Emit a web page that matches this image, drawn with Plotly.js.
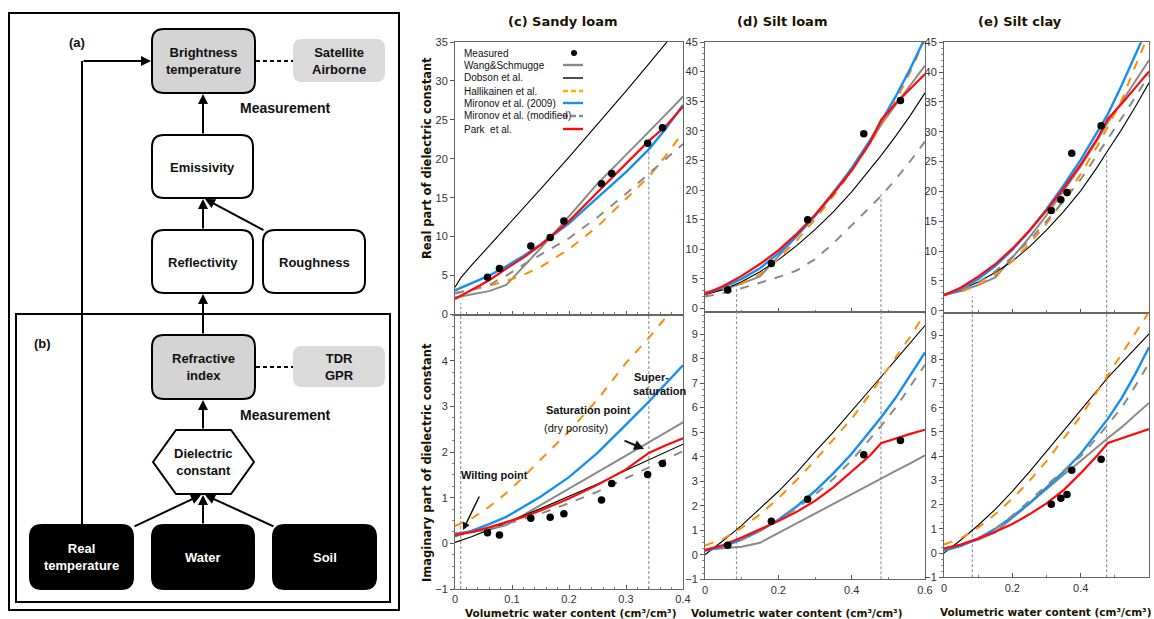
<!DOCTYPE html>
<html>
<head>
<meta charset="utf-8">
<script src="https://cdn.plot.ly/plotly-3.0.1.min.js"></script>
<style>html,body{margin:0;padding:0;background:#fff;}#chart{width:1154px;height:619px;}</style>
</head>
<body>
<div id="chart"></div>
<script>
// ---------------- DATA ----------------
const seriesNames = ['Measured','Wang&Schmugge','Dobson et al.','Hallikainen et al.','Mironov et al. (2009)','Mironov et al. (modified)','Park  et al.'];
const panelTitles = ['(c) Sandy loam','(d) Silt loam','(e) Silt clay'];

const sandyX = [0,0.01,0.03,0.06,0.09,0.12,0.15,0.2,0.25,0.3,0.34,0.37,0.4];
const sandyRealWang =        [2.2,2.3,2.6,3.0,3.8,6.1,8.5,12.6,16.8,20.5,23.4,25.7,28.0];
const sandyRealDobson =      [3.5,4.7,6.4,8.8,11.2,13.6,16.1,20.2,24.4,28.7,32.2,34.8,37.5];
const sandyRealHallikainen = [2.8,2.9,3.2,3.7,4.3,5.1,6.1,8.4,11.3,14.8,17.7,20.4,23.4];
const sandyRealMironov09 =   [3.1,3.4,4.0,5.0,6.2,7.5,9.0,11.7,15.0,18.3,21.2,23.9,26.9];
const sandyRealMironovMod =  [2.7,2.85,3.2,3.8,5.0,6.4,7.7,9.8,12.5,15.5,18.1,20.0,21.9];
const sandyRealPark =        [2.0,2.4,3.1,4.4,5.9,7.3,8.9,12.0,15.7,19.3,22.3,24.2,26.7];
const sandyImagWang =        [0.22,0.23,0.26,0.3,0.4,0.62,0.84,1.2,1.56,1.92,2.21,2.43,2.65];
const sandyImagDobson =      [0.02,0.06,0.15,0.3,0.45,0.6,0.76,1.03,1.3,1.6,1.83,2.0,2.17];
const sandyImagHallikainen = [0.38,0.43,0.55,0.8,1.1,1.45,1.83,2.45,3.15,3.95,4.5,4.95,5.5];
const sandyImagMironov09 =   [0.15,0.2,0.28,0.42,0.58,0.8,1.02,1.45,1.98,2.6,3.1,3.5,3.9];
const sandyImagMironovMod =  [0.17,0.19,0.24,0.32,0.42,0.53,0.65,0.88,1.13,1.42,1.66,1.84,2.02];
const sandyImagPark =        [0.18,0.2,0.25,0.35,0.46,0.58,0.72,0.98,1.28,1.62,1.98,2.15,2.3];
const sandyMeasX =    [0.057,0.078,0.133,0.167,0.191,0.257,0.275,0.338,0.364];
const sandyMeasReal = [4.8,5.9,8.8,9.9,12.0,16.8,18.1,22.0,24.0];
const sandyMeasImag = [0.23,0.18,0.55,0.57,0.65,0.95,1.31,1.51,1.75];

const siltX = [0,0.05,0.1,0.15,0.2,0.25,0.3,0.35,0.4,0.45,0.48,0.52,0.56,0.6];
const siltLoamRealWang =        [2.5,3.2,4.2,5.4,8.8,12.2,15.8,19.6,23.6,28.0,31.0,34.4,37.7,41.0];
const siltLoamRealDobson =      [2.3,3.2,4.5,6.2,8.2,10.6,13.3,16.3,19.7,23.4,25.8,29.1,32.6,36.4];
const siltLoamRealHallikainen = [2.8,3.1,4.2,5.8,8.4,11.5,15.0,19.0,23.3,27.9,30.9,35.0,40.0,45.5];
const siltLoamRealMironov09 =   [2.5,3.6,5.0,6.8,9.3,12.2,15.6,19.4,23.7,28.4,31.5,35.8,40.5,45.7];
const siltLoamRealMironovMod =  [2.0,2.6,3.4,4.3,5.3,6.4,8.3,11.0,14.0,17.1,19.0,21.8,24.9,28.2];
const siltLoamRealPark =        [2.4,3.8,5.5,7.5,9.8,12.6,15.8,19.4,23.3,28.0,31.8,34.6,37.1,39.6];
const siltLoamImagWang =        [0.2,0.25,0.33,0.49,0.89,1.28,1.68,2.07,2.47,2.86,3.1,3.42,3.73,4.05];
const siltLoamImagDobson =      [0.0,0.58,1.2,1.88,2.58,3.35,4.2,5.0,5.85,6.7,7.25,7.95,8.65,9.35];
const siltLoamImagHallikainen = [0.38,0.65,1.1,1.65,2.3,3.05,3.85,4.7,5.55,6.55,7.2,8.05,8.9,9.85];
const siltLoamImagMironov09 =   [0.16,0.34,0.62,0.98,1.43,1.97,2.6,3.32,4.12,5.02,5.6,6.4,7.3,8.25];
const siltLoamImagMironovMod =  [0.2,0.38,0.62,0.98,1.4,1.9,2.45,3.1,3.85,4.7,5.25,6.0,6.85,7.75];
const siltLoamImagPark =        [0.19,0.4,0.7,1.03,1.38,1.75,2.2,2.75,3.4,4.05,4.55,4.75,4.93,5.1];
const siltLoamMeasX =    [0.062,0.181,0.28,0.433,0.533];
const siltLoamMeasReal = [3.1,7.6,15.0,29.5,35.1];
const siltLoamMeasImag = [0.39,1.37,2.26,4.08,4.66];

const siltClayRealWang =        [2.6,3.3,4.3,5.6,8.9,12.3,16.0,20.0,24.2,28.7,31.6,35.0,38.5,42.0];
const siltClayRealDobson =      [2.6,3.5,4.8,6.4,8.3,10.7,13.5,16.6,20.1,24.2,26.9,30.4,34.2,38.2];
const siltClayRealHallikainen = [2.8,3.2,4.3,6.0,8.3,11.2,14.6,18.5,22.9,27.7,30.9,35.3,41.0,46.5];
const siltClayRealMironov09 =   [2.6,3.6,5.3,7.5,10.2,13.4,17.0,21.0,25.3,30.0,33.0,37.8,42.8,48.0];
const siltClayRealMironovMod =  [2.7,3.5,4.7,6.6,9.0,11.8,15.0,18.4,22.0,26.2,28.9,32.3,35.8,39.5];
const siltClayRealPark =        [2.6,3.9,5.7,7.8,10.4,13.4,16.8,20.5,24.5,29.0,32.2,34.7,37.4,40.1];
const siltClayImagWang =        [0.2,0.35,0.55,0.85,1.45,2.05,2.63,3.23,3.8,4.4,4.75,5.2,5.7,6.2];
const siltClayImagDobson =      [0.0,0.55,1.15,1.8,2.55,3.35,4.2,5.05,5.9,6.75,7.25,7.85,8.45,9.05];
const siltClayImagHallikainen = [0.35,0.62,1.05,1.6,2.25,2.98,3.8,4.7,5.65,6.7,7.35,8.2,9.05,9.95];
const siltClayImagMironov09 =   [0.1,0.3,0.6,1.0,1.5,2.05,2.7,3.35,4.1,5.0,5.55,6.4,7.4,8.5];
const siltClayImagMironovMod =  [0.15,0.35,0.62,1.0,1.55,2.15,2.8,3.4,4.0,4.8,5.3,6.0,6.9,7.85];
const siltClayImagPark =        [0.18,0.35,0.6,0.88,1.2,1.6,2.05,2.6,3.3,4.05,4.55,4.75,4.95,5.12];
const siltClayMeasX =    [0.314,0.342,0.36,0.374,0.46];
const siltClayMeasReal = [16.8,18.6,19.8,26.4,31.0];
const siltClayMeasImag = [2.02,2.26,2.42,3.42,3.87];

// wilting point, saturation point (x) and height of the drop line in the real-part plots
const wiltingPoint =    [0.01, 0.086, 0.083];
const saturationPoint = [0.34, 0.48, 0.476];
const wiltingLineTop =    [1.5, 4.0, 2.4];
const saturationLineTop = [22.0, 19.5, 26.0];

// ---------------- STYLE / LAYOUT ----------------
const W = 1154, H = 619;
const PX = p => p / W;
const PY = p => 1 - p / H;

const styles = {
  wang:   {color:'#8a8a8a', width:2, dash:'solid'},
  dobson: {color:'#000000', width:1.1, dash:'solid'},
  hall:   {color:'#ff8c00', width:2, dash:'dash'},
  mir09:  {color:'#1590f2', width:2.4, dash:'solid'},
  mirmod: {color:'#8a8a8a', width:2, dash:'dash'},
  park:   {color:'#ff0a0a', width:2.2, dash:'solid'}
};

const panels = [
  {grid:sandyX, meas:sandyMeasX, real:{wang:sandyRealWang,dobson:sandyRealDobson,hall:sandyRealHallikainen,mir09:sandyRealMironov09,mirmod:sandyRealMironovMod,park:sandyRealPark,meas:sandyMeasReal},
   imag:{wang:sandyImagWang,dobson:sandyImagDobson,hall:sandyImagHallikainen,mir09:sandyImagMironov09,mirmod:sandyImagMironovMod,park:sandyImagPark,meas:sandyMeasImag}, top:['x','y'], bot:['x2','y2']},
  {grid:siltX, meas:siltLoamMeasX, real:{wang:siltLoamRealWang,dobson:siltLoamRealDobson,hall:siltLoamRealHallikainen,mir09:siltLoamRealMironov09,mirmod:siltLoamRealMironovMod,park:siltLoamRealPark,meas:siltLoamMeasReal},
   imag:{wang:siltLoamImagWang,dobson:siltLoamImagDobson,hall:siltLoamImagHallikainen,mir09:siltLoamImagMironov09,mirmod:siltLoamImagMironovMod,park:siltLoamImagPark,meas:siltLoamMeasImag}, top:['x3','y3'], bot:['x4','y4']},
  {grid:siltX, meas:siltClayMeasX, real:{wang:siltClayRealWang,dobson:siltClayRealDobson,hall:siltClayRealHallikainen,mir09:siltClayRealMironov09,mirmod:siltClayRealMironovMod,park:siltClayRealPark,meas:siltClayMeasReal},
   imag:{wang:siltClayImagWang,dobson:siltClayImagDobson,hall:siltClayImagHallikainen,mir09:siltClayImagMironov09,mirmod:siltClayImagMironovMod,park:siltClayImagPark,meas:siltClayMeasImag}, top:['x5','y5'], bot:['x6','y6']}
];
const yMinTop = [0, -0.6, -0.35];
const yMinBot = [-1, -1, -1];
const yMaxBot = [5, 9.9, 9.92];

const traces = [];
const order = ['wang','dobson','hall','mir09','mirmod','park'];
panels.forEach((p, i) => {
  [[wiltingPoint[i], wiltingLineTop[i]], [saturationPoint[i], saturationLineTop[i]]].forEach(([xv, yt]) => {
    traces.push({x:[xv,xv], y:[yMinTop[i], yt], xaxis:p.top[0], yaxis:p.top[1], mode:'lines', showlegend:false, hoverinfo:'skip',
      line:{color:'#9a9a9a', width:1.2, dash:'3px,2px'}});
    traces.push({x:[xv,xv], y:[yMinBot[i], yMaxBot[i]], xaxis:p.bot[0], yaxis:p.bot[1], mode:'lines', showlegend:false, hoverinfo:'skip',
      line:{color:'#9a9a9a', width:1.2, dash:'3px,2px'}});
  });
  [['real', p.top], ['imag', p.bot]].forEach(([part, ax]) => {
    order.forEach(k => {
      traces.push({x:p.grid, y:p[part][k], xaxis:ax[0], yaxis:ax[1], mode:'lines', showlegend:false,
        line:{color:styles[k].color, width:styles[k].width, dash:styles[k].dash}});
    });
    traces.push({x:p.meas, y:p[part].meas, xaxis:ax[0], yaxis:ax[1], mode:'markers', showlegend:false,
      marker:{color:'#000', size:7.5, symbol:'circle'}});
  });
});

const tickFont = {family:'Liberation Sans, Arial, sans-serif', size:11, color:'#333'};
function xax(anchor, dom, rng, dt, mdt, labels) {
  return {anchor:anchor, domain:dom, range:rng, dtick:dt, tick0:0, showticklabels:labels, ticks:'inside', ticklen:4, tickcolor:'#555',
    minor:{dtick:mdt, ticks:'inside', ticklen:2.5, tickcolor:'#777'},
    showline:true, mirror:true, linecolor:'#666', linewidth:1, showgrid:false, zeroline:false, tickfont:tickFont, fixedrange:true};
}
function yax(anchor, dom, rng, opts) {
  return Object.assign({anchor:anchor, domain:dom, range:rng, ticks:'outside', ticklen:4, tickcolor:'#555', showline:true, mirror:true,
    linecolor:'#666', linewidth:1, showgrid:false, zeroline:false, tickfont:tickFont, fixedrange:true}, opts);
}

const layout = {
  width:W, height:H, margin:{l:0,r:0,t:0,b:0}, paper_bgcolor:'#fff', plot_bgcolor:'rgba(0,0,0,0)', showlegend:false,
  xaxis:  xax('y',  [PX(455),PX(683)], [0,0.4], 0.1, 0.02, false),
  yaxis:  yax('x',  [PY(314.5),PY(42)], [0,35], {dtick:5, tick0:0}),
  xaxis2: xax('y2', [PX(455),PX(683)], [0,0.4], 0.1, 0.02, true),
  yaxis2: yax('x2', [PY(589),PY(315)], [-1,5], {tickvals:[-1,0,1,2,3,4], minor:{dtick:0.25, ticks:'outside', ticklen:2, tickcolor:'#888'}}),
  xaxis3: xax('y3', [PX(705),PX(925)], [0,0.6], 0.2, 0.1, false),
  yaxis3: yax('x3', [PY(312),PY(42)], [-0.6,45], {dtick:5, tick0:0, minor:{dtick:1, ticks:'outside', ticklen:2, tickcolor:'#888'}}),
  xaxis4: xax('y4', [PX(705),PX(925)], [0,0.6], 0.2, 0.1, true),
  yaxis4: yax('x4', [PY(579.3),PY(312)], [-1,9.9], {dtick:1, tick0:0, minor:{dtick:0.25, ticks:'outside', ticklen:2, tickcolor:'#888'}}),
  xaxis5: xax('y5', [PX(944),PX(1149)], [0,0.6], 0.2, 0.1, false),
  yaxis5: yax('x5', [PY(312.8),PY(42.3)], [-0.35,45], {dtick:5, tick0:0, minor:{dtick:1, ticks:'outside', ticklen:2, tickcolor:'#888'}}),
  xaxis6: xax('y6', [PX(944),PX(1149)], [0,0.6], 0.2, 0.1, true),
  yaxis6: yax('x6', [PY(577.3),PY(312.8)], [-1,9.92], {dtick:1, tick0:0, minor:{dtick:0.25, ticks:'outside', ticklen:2, tickcolor:'#888'}}),
  shapes:[], annotations:[]
};

const S = layout.shapes, A = layout.annotations;
const sansB = 'Liberation Sans, Arial, sans-serif';
const titleFont = 'DejaVu Sans, Verdana, sans-serif';

// ------------- chart texts -------------
[[563,22],[782,22],[1020,22]].forEach((pos,i)=>{
  A.push({xref:'paper', yref:'paper', x:PX(pos[0]), y:PY(pos[1]), text:'<b>'+panelTitles[i]+'</b>', showarrow:false,
    font:{family:titleFont, size:13, color:'#1a1200'}, xanchor:'center', yanchor:'middle'});
});
A.push({xref:'paper', yref:'paper', x:PX(427), y:PY(158), text:'<b>Real part of dielectric constant</b>', textangle:-90, showarrow:false,
  font:{family:titleFont, size:11.5, color:'#1a1200'}, xanchor:'center', yanchor:'middle'});
A.push({xref:'paper', yref:'paper', x:PX(427), y:PY(463), text:'<b>Imaginary part of dielectric constant</b>', textangle:-90, showarrow:false,
  font:{family:titleFont, size:11.5, color:'#1a1200'}, xanchor:'center', yanchor:'middle'});
[[571,613],[797,612.5],[1046,612]].forEach(pos=>{
  A.push({xref:'paper', yref:'paper', x:PX(pos[0]), y:PY(pos[1]), text:'<b>Volumetric water content (cm³/cm³)</b>', showarrow:false,
    font:{family:titleFont, size:10.5, color:'#1a1200'}, xanchor:'center', yanchor:'middle'});
});

A.push({xref:'paper', yref:'paper', x:PX(494), y:PY(483), text:'<b>Wilting point</b>', showarrow:false, font:{family:sansB, size:11, color:'#111'}});
A.push({xref:'paper', yref:'paper', x:PX(463), y:PY(530), ax:17, ay:-35, text:'', showarrow:true, arrowhead:2, arrowsize:1, arrowwidth:1.5, arrowcolor:'#111'});
A.push({xref:'paper', yref:'paper', x:PX(588), y:PY(418), text:'<b>Saturation point</b>', showarrow:false, font:{family:sansB, size:11, color:'#111'}});
A.push({xref:'paper', yref:'paper', x:PX(576), y:PY(436), text:'(dry porosity)', showarrow:false, font:{family:sansB, size:11, color:'#111'}});
A.push({xref:'paper', yref:'paper', x:PX(644), y:PY(449), ax:-21, ay:-9, text:'', showarrow:true, arrowhead:2, arrowsize:1, arrowwidth:2, arrowcolor:'#111'});
A.push({xref:'paper', yref:'paper', x:PX(651), y:PY(377), text:'<b>Super-</b>', showarrow:false, font:{family:sansB, size:11, color:'#111'}});
A.push({xref:'paper', yref:'paper', x:PX(659), y:PY(391), text:'<b>saturation</b>', showarrow:false, font:{family:sansB, size:11, color:'#111'}});

// legend inside (c) real plot
const legY = [53,65,78,91,103,116,129];
const legKeys = [null,'wang','dobson','hall','mir09','mirmod','park'];
seriesNames.forEach((nm,i)=>{
  A.push({xref:'paper', yref:'paper', x:PX(462), y:PY(legY[i]), text:nm, showarrow:false, xanchor:'left', yanchor:'middle',
    font:{family:'Liberation Sans Narrow, Arial Narrow, Liberation Sans, sans-serif', size:10, color:'#111'}});
  const k = legKeys[i];
  if (k) {
    const st = styles[k];
    S.push({type:'line', xref:'paper', yref:'paper', x0:PX(563), x1:PX(583), y0:PY(legY[i]), y1:PY(legY[i]),
      line:{color: k==='hall' ? '#ffb300' : st.color, width: k==='dobson' ? 1.4 : 2.4, dash: st.dash==='dash' ? '5px,3px' : 'solid'}});
  } else {
    S.push({type:'circle', xref:'paper', yref:'paper', x0:PX(571), x1:PX(577), y0:PY(50), y1:PY(56), fillcolor:'#000', line:{color:'#000', width:0}});
  }
});

// ------------- flowchart -------------
function rrPath(x0,y0,x1,y1,r){
  const f = (x,y)=> PX(x)+','+PY(y);
  return 'M'+f(x0+r,y0)+' L'+f(x1-r,y0)+' Q'+f(x1,y0)+' '+f(x1,y0+r)+' L'+f(x1,y1-r)+' Q'+f(x1,y1)+' '+f(x1-r,y1)+
         ' L'+f(x0+r,y1)+' Q'+f(x0,y1)+' '+f(x0,y1-r)+' L'+f(x0,y0+r)+' Q'+f(x0,y0)+' '+f(x0+r,y0)+' Z';
}
function box(x0,y0,x1,y1,r,fill,lw){
  S.push({type:'path', xref:'paper', yref:'paper', path:rrPath(x0,y0,x1,y1,r), fillcolor:fill,
    line:{color:'#000', width:lw}, layer:'above'});
}
function txt(x,y,t,color,size){
  A.push({xref:'paper', yref:'paper', x:PX(x), y:PY(y), text:'<b>'+t+'</b>', showarrow:false, xanchor:'center', yanchor:'middle',
    font:{family:sansB, size:size||13, color:color||'#111'}});
}
function arrow(tx,ty,hx,hy){
  A.push({xref:'paper', yref:'paper', x:PX(hx), y:PY(hy), ax:tx-hx, ay:ty-hy, text:'', showarrow:true,
    arrowhead:2, arrowsize:1, arrowwidth:2, arrowcolor:'#000', standoff:0});
}
function line(x0,y0,x1,y1,dash,w){
  S.push({type:'line', xref:'paper', yref:'paper', x0:PX(x0), y0:PY(y0), x1:PX(x1), y1:PY(y1), line:{color:'#000', width:w||2, dash:dash||'solid'}});
}
S.push({type:'rect', xref:'paper', yref:'paper', x0:PX(9), x1:PX(399), y0:PY(13), y1:PY(610), line:{color:'#000', width:2}});
S.push({type:'rect', xref:'paper', yref:'paper', x0:PX(16), x1:PX(390), y0:PY(314), y1:PY(602), line:{color:'#000', width:2}});
box(152,29,255,93,12,'#d4d4d4',2);
box(293,39,385,82,9,'#dadada',0);
box(152,135,253,198,12,'#ffffff',2);
box(152,230,253,293,12,'#ffffff',2);
box(263,230,365,293,12,'#ffffff',2);
box(152,335,255,399,12,'#d4d4d4',2);
box(293,346,385,387,9,'#dadada',0);
box(30,525,133,589,12,'#000000',2);
box(152,525,254,589,12,'#000000',2);
box(273,525,376,589,12,'#000000',2);
(function(){
  const pts = [[153,462],[176,430],[231,430],[254,462],[231,494],[176,494]];
  const p = 'M' + pts.map(q=>PX(q[0])+','+PY(q[1])).join(' L') + ' Z';
  S.push({type:'path', xref:'paper', yref:'paper', path:p, fillcolor:'#fff', line:{color:'#000', width:2}});
})();
line(256,61,293,61,'4px,3px',2);
line(256,367,293,367,'4px,3px',2);
line(82,526,82,61,'solid',2);
arrow(82,61,151,61);
arrow(203,135,203,94);
arrow(203,230,203,199);
arrow(265,231,205,199);
arrow(203,335,203,294);
arrow(203,430,203,400);
arrow(133,527,201,495);
arrow(203,525,203,495);
arrow(275,527,205,495);
txt(77,42,'(a)','#111',13);
txt(42,343,'(b)','#111',13);
txt(203.5,61,'Brightness<br>temperature');
txt(339,61,'Satellite<br>Airborne');
txt(285,108,'Measurement','#111',14);
txt(202.5,167,'Emissivity');
txt(202.5,262,'Reflectivity');
txt(314,262,'Roughness');
txt(203.5,367,'Refractive<br>index');
txt(339,367,'TDR<br>GPR');
txt(285,415,'Measurement','#111',14);
txt(203.5,462,'Dielectric<br>constant');
txt(81.5,557,'Real<br>temperature','#fff');
txt(203,557,'Water','#fff');
txt(324.5,557,'Soil','#fff');

Plotly.newPlot('chart', traces, layout, {staticPlot:true, displayModeBar:false});
</script>
</body>
</html>
